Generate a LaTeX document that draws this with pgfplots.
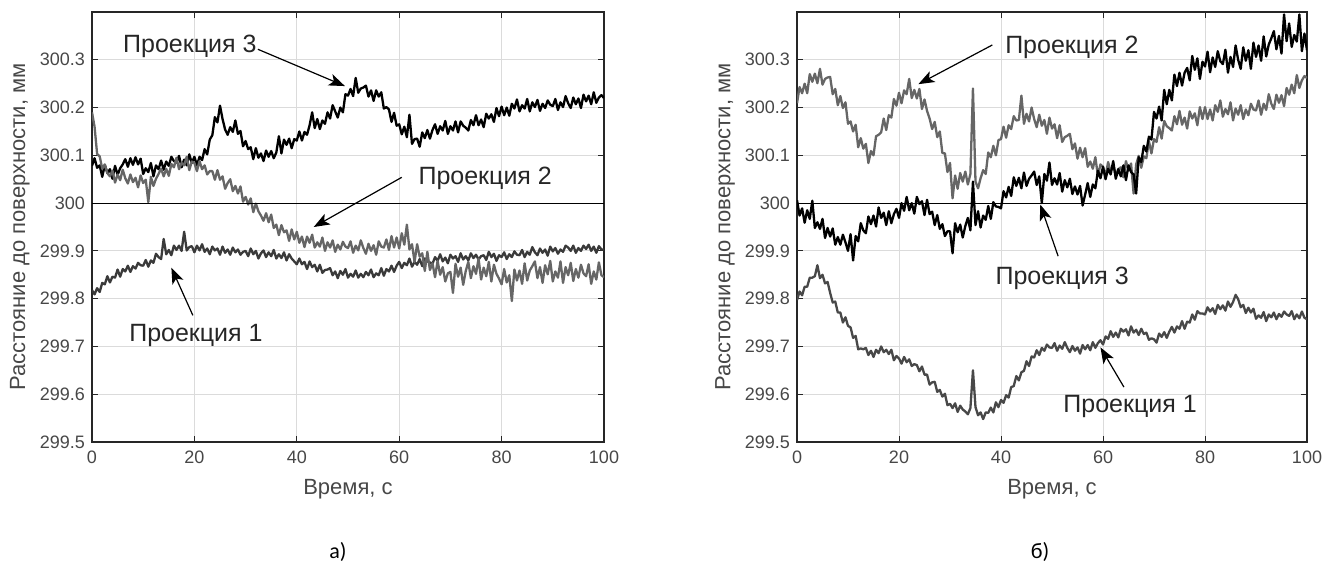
\documentclass[border=0pt]{standalone}
\usepackage{fontspec}
\setmainfont{Liberation Sans}
\newfontfamily\capfont{Carlito}
\usepackage{pgfplots}
\usepackage{pgfplotstable}
\pgfplotsset{compat=1.18}
\usetikzlibrary{arrows.meta}

\definecolor{axgray}{HTML}{262626}
\definecolor{sera}{HTML}{3A3A3A}
\definecolor{serb}{HTML}{666666}
\definecolor{serc}{HTML}{484848}

% panel a): t, Проекция 1, Проекция 2, Проекция 3
\pgfplotstableread{
t p1 p2 p3
0 299.818 300.190 300.078
0.5 299.809 300.160 300.094
1 299.822 300.103 300.074
1.5 299.814 300.098 300.079
2 299.833 300.072 300.055
2.5 299.830 300.081 300.080
3 299.847 300.063 300.063
3.5 299.834 300.056 300.071
4 299.846 300.068 300.051
4.5 299.844 300.043 300.078
5 299.861 300.060 300.059
5.5 299.846 300.048 300.073
6 299.862 300.070 300.081
6.5 299.857 300.052 300.092
7 299.869 300.041 300.076
7.5 299.856 300.060 300.094
8 299.868 300.044 300.080
8.5 299.863 300.053 300.096
9 299.875 300.033 300.081
9.5 299.870 300.058 300.093
10 299.869 300.042 300.061
10.5 299.881 300.049 300.073
11 299.867 300.002 300.065
11.5 299.880 300.055 300.084
12 299.875 300.036 300.056
12.5 299.894 300.051 300.079
13 299.887 300.061 300.071
13.5 299.883 300.072 300.089
14 299.925 300.056 300.070
14.5 299.893 300.072 300.087
15 299.902 300.057 300.078
15.5 299.891 300.082 300.097
16 299.911 300.075 300.088
16.5 299.902 300.095 300.085
17 299.911 300.071 300.099
17.5 299.900 300.084 300.075
18 299.940 300.079 300.091
18.5 299.901 300.097 300.079
19 299.908 300.069 300.102
19.5 299.910 300.087 300.084
20 299.897 300.084 300.097
20.5 299.911 300.067 300.079
21 299.901 300.088 300.097
21.5 299.914 300.071 300.090
22 299.898 300.079 300.113
22.5 299.905 300.060 300.102
23 299.893 300.067 300.133
23.5 299.909 300.067 300.142
24 299.901 300.049 300.180
24.5 299.905 300.069 300.169
25 299.892 300.049 300.204
25.5 299.909 300.056 300.176
26 299.896 300.030 300.154
26.5 299.903 300.042 300.143
27 299.892 300.050 300.159
27.5 299.907 300.025 300.149
28 299.897 300.036 300.173
28.5 299.903 300.020 300.145
29 299.892 300.035 300.151
29.5 299.898 300.003 300.119
30 299.900 300.013 300.130
30.5 299.889 299.997 300.113
31 299.905 300.010 300.117
31.5 299.893 299.981 300.092
32 299.900 299.999 300.115
32.5 299.884 299.983 300.095
33 299.895 299.974 300.104
33.5 299.901 299.963 300.088
34 299.887 299.979 300.110
34.5 299.897 299.960 300.097
35 299.889 299.976 300.109
35.5 299.902 299.948 300.094
36 299.884 299.955 300.106
36.5 299.893 299.933 300.140
37 299.885 299.954 300.104
37.5 299.897 299.939 300.133
38 299.880 299.943 300.122
38.5 299.893 299.921 300.135
39 299.884 299.945 300.115
39.5 299.878 299.924 300.134
40 299.872 299.940 300.131
40.5 299.884 299.917 300.150
41 299.872 299.930 300.131
41.5 299.877 299.908 300.149
42 299.862 299.930 300.143
42.5 299.878 299.917 300.163
43 299.866 299.934 300.190
43.5 299.871 299.907 300.157
44 299.857 299.918 300.176
44.5 299.871 299.909 300.155
45 299.854 299.928 300.173
45.5 299.860 299.900 300.166
46 299.861 299.918 300.190
46.5 299.864 299.907 300.177
47 299.849 299.922 300.205
47.5 299.857 299.898 300.192
48 299.843 299.913 300.179
48.5 299.858 299.903 300.200
49 299.850 299.919 300.190
49.5 299.862 299.909 300.228
50 299.844 299.906 300.225
50.5 299.852 299.920 300.239
51 299.846 299.896 300.224
51.5 299.859 299.911 300.262
52 299.844 299.901 300.231
52.5 299.852 299.922 300.240
53 299.845 299.906 300.242
53.5 299.856 299.894 300.246
54 299.849 299.915 300.223
54.5 299.861 299.900 300.236
55 299.845 299.912 300.214
55.5 299.853 299.892 300.236
56 299.849 299.920 300.223
56.5 299.864 299.909 300.232
57 299.848 299.907 300.198
57.5 299.862 299.924 300.201
58 299.857 299.902 300.196
58.5 299.869 299.931 300.170
59 299.856 299.907 300.189
59.5 299.869 299.928 300.162
60 299.877 299.905 300.165
60.5 299.864 299.937 300.144
61 299.875 299.913 300.160
61.5 299.870 299.955 300.138
62 299.884 299.903 300.185
62.5 299.867 299.914 300.124
63 299.877 299.877 300.134
63.5 299.871 299.914 300.135
64 299.883 299.888 300.118
64.5 299.868 299.895 300.148
65 299.884 299.858 300.136
65.5 299.878 299.898 300.153
66 299.876 299.860 300.135
66.5 299.873 299.874 300.153
67 299.887 299.845 300.165
67.5 299.879 299.879 300.145
68 299.893 299.850 300.161
68.5 299.878 299.866 300.152
69 299.886 299.836 300.172
69.5 299.874 299.853 300.145
70 299.892 299.856 300.161
70.5 299.884 299.812 300.152
71 299.889 299.873 300.171
71.5 299.877 299.846 300.148
72 299.895 299.865 300.171
72.5 299.882 299.829 300.162
73 299.889 299.858 300.158
73.5 299.880 299.877 300.152
74 299.895 299.843 300.174
74.5 299.885 299.868 300.163
75 299.892 299.852 300.184
75.5 299.882 299.884 300.163
76 299.889 299.840 300.175
76.5 299.891 299.865 300.159
77 299.881 299.847 300.187
77.5 299.898 299.877 300.177
78 299.887 299.836 300.186
78.5 299.894 299.871 300.170
79 299.879 299.852 300.199
79.5 299.891 299.842 300.182
80 299.887 299.830 300.202
80.5 299.897 299.862 300.184
81 299.883 299.834 300.200
81.5 299.893 299.849 300.183
82 299.887 299.795 300.208
82.5 299.899 299.861 300.198
83 299.892 299.838 300.217
83.5 299.891 299.859 300.192
84 299.902 299.831 300.205
84.5 299.887 299.874 300.198
85 299.898 299.838 300.218
85.5 299.892 299.859 300.192
86 299.908 299.868 300.211
86.5 299.897 299.878 300.201
87 299.891 299.843 300.216
87.5 299.905 299.866 300.193
88 299.896 299.833 300.208
88.5 299.903 299.870 300.199
89 299.890 299.851 300.215
89.5 299.909 299.879 300.206
90 299.899 299.836 300.203
90.5 299.906 299.857 300.218
91 299.894 299.844 300.195
91.5 299.903 299.878 300.211
92 299.898 299.833 300.201
92.5 299.911 299.866 300.224
93 299.907 299.849 300.209
93.5 299.900 299.875 300.199
94 299.911 299.837 300.221
94.5 299.896 299.862 300.207
95 299.906 299.844 300.219
95.5 299.900 299.871 300.199
96 299.911 299.853 300.227
96.5 299.904 299.847 300.213
97 299.913 299.872 300.225
97.5 299.900 299.831 300.207
98 299.909 299.857 300.232
98.5 299.896 299.840 300.210
99 299.910 299.876 300.221
99.5 299.903 299.849 300.226
100 299.903 299.845 300.220
}\dataA

% panel б): t, Проекция 1, Проекция 2, Проекция 3
\pgfplotstableread{
t p1 p2 p3
0 299.797 300.209 300.006
0.5 299.815 300.243 299.974
1 299.807 300.230 299.989
1.5 299.825 300.250 299.959
2 299.825 300.230 299.985
2.5 299.844 300.270 299.967
3 299.844 300.254 300.005
3.5 299.847 300.271 299.948
4 299.870 300.251 299.960
4.5 299.843 300.281 299.946
5 299.850 300.248 299.967
5.5 299.832 300.260 299.927
6 299.835 300.263 299.948
6.5 299.812 300.264 299.930
7 299.792 300.228 299.947
7.5 299.794 300.239 299.913
8 299.771 300.205 299.929
8.5 299.771 300.224 299.913
9 299.750 300.199 299.934
9.5 299.761 300.211 299.918
10 299.743 300.166 299.900
10.5 299.740 300.171 299.935
11 299.718 300.150 299.880
11.5 299.722 300.164 299.931
12 299.694 300.117 299.920
12.5 299.696 300.136 299.958
13 299.694 300.114 299.943
13.5 299.697 300.124 299.937
14 299.682 300.084 299.972
14.5 299.691 300.109 299.956
15 299.678 300.100 299.974
15.5 299.693 300.140 299.951
16 299.686 300.143 299.991
16.5 299.700 300.148 299.969
17 299.688 300.177 299.980
17.5 299.693 300.153 299.954
18 299.684 300.184 299.983
18.5 299.693 300.179 299.958
19 299.671 300.218 299.977
19.5 299.680 300.204 299.988
20 299.675 300.231 299.969
20.5 299.664 300.209 300.000
21 299.678 300.236 299.984
21.5 299.667 300.228 300.013
22 299.673 300.260 299.985
22.5 299.659 300.220 300.000
23 299.663 300.237 299.978
23.5 299.661 300.219 300.013
24 299.648 300.239 299.998
24.5 299.658 300.197 300.004
25 299.641 300.217 299.975
25.5 299.641 300.193 300.007
26 299.620 300.177 299.977
26.5 299.625 300.155 299.982
27 299.626 300.170 299.954
27.5 299.605 300.138 299.975
28 299.609 300.150 299.946
28.5 299.595 300.105 299.956
29 299.601 300.104 299.931
29.5 299.577 300.065 299.941
30 299.580 300.084 299.941
30.5 299.571 300.010 299.895
31 299.581 300.058 299.958
31.5 299.563 300.030 299.939
32 299.576 300.063 299.955
32.5 299.568 300.045 299.928
33 299.564 300.066 299.952
33.5 299.558 300.039 299.969
34 299.571 300.061 299.943
34.5 299.650 300.240 300.045
35 299.573 300.045 299.954
35.5 299.556 300.031 299.983
36 299.562 300.052 299.949
36.5 299.548 300.069 299.974
37 299.562 300.061 299.965
37.5 299.561 300.106 299.994
38 299.572 300.096 299.967
38.5 299.562 300.120 300.002
39 299.583 300.100 299.993
39.5 299.573 300.132 299.992
40 299.588 300.134 299.989
40.5 299.582 300.160 300.025
41 299.598 300.137 300.012
41.5 299.593 300.163 300.034
42 299.615 300.155 300.015
42.5 299.617 300.182 300.054
43 299.638 300.173 300.036
43.5 299.629 300.174 300.053
44 299.646 300.225 300.031
44.5 299.649 300.166 300.064
45 299.669 300.187 300.036
45.5 299.659 300.171 300.051
46 299.679 300.200 300.058
46.5 299.677 300.176 300.066
47 299.692 300.159 300.038
47.5 299.682 300.185 300.056
48 299.697 300.162 300.000
48.5 299.691 300.174 300.061
49 299.704 300.145 300.047
49.5 299.698 300.179 300.085
50 299.697 300.156 300.038
50.5 299.707 300.165 300.052
51 299.691 300.136 300.039
51.5 299.702 300.163 300.063
52 299.695 300.128 300.024
52.5 299.709 300.138 300.048
53 299.697 300.141 300.033
53.5 299.688 300.145 300.051
54 299.701 300.113 300.019
54.5 299.691 300.125 300.035
55 299.698 300.093 300.018
55.5 299.685 300.116 300.036
56 299.703 300.096 299.995
56.5 299.694 300.115 300.018
57 299.703 300.076 300.042
57.5 299.692 300.087 300.013
58 299.709 300.072 300.039
58.5 299.697 300.096 300.031
59 299.707 300.057 300.068
59.5 299.713 300.081 300.052
60 299.704 300.076 300.076
60.5 299.721 300.056 300.050
61 299.716 300.086 300.072
61.5 299.732 300.066 300.060
62 299.720 300.080 300.088
62.5 299.729 300.058 300.051
63 299.719 300.071 300.071
63.5 299.737 300.075 300.056
64 299.731 300.054 300.079
64.5 299.736 300.088 300.048
65 299.723 300.068 300.079
65.5 299.742 300.083 300.065
66 299.729 300.020 300.060
66.5 299.735 300.081 300.020
67 299.724 300.099 300.096
67.5 299.737 300.074 300.086
68 299.726 300.098 300.120
68.5 299.729 300.094 300.108
69 299.714 300.130 300.139
69.5 299.717 300.104 300.133
70 299.715 300.134 300.191
70.5 299.708 300.128 300.177
71 299.727 300.159 300.202
71.5 299.720 300.135 300.173
72 299.730 300.172 300.237
72.5 299.718 300.161 300.207
73 299.731 300.157 300.237
73.5 299.741 300.152 300.215
74 299.729 300.182 300.269
74.5 299.742 300.165 300.245
75 299.737 300.193 300.273
75.5 299.753 300.164 300.246
76 299.737 300.179 300.273
76.5 299.752 300.156 300.283
77 299.750 300.192 300.257
77.5 299.767 300.177 300.308
78 299.756 300.188 300.279
78.5 299.774 300.163 300.303
79 299.769 300.201 300.260
79.5 299.769 300.176 300.296
80 299.767 300.201 300.286
80.5 299.782 300.176 300.317
81 299.773 300.196 300.274
81.5 299.780 300.173 300.305
82 299.768 300.205 300.285
82.5 299.787 300.191 300.318
83 299.778 300.215 300.297
83.5 299.786 300.181 300.291
84 299.775 300.197 300.321
84.5 299.794 300.186 300.273
85 299.783 300.211 300.306
85.5 299.793 300.173 300.285
86 299.808 300.198 300.330
86.5 299.799 300.185 300.300
87 299.782 300.205 300.281
87.5 299.787 300.176 300.326
88 299.770 300.196 300.298
88.5 299.781 300.184 300.320
89 299.771 300.208 300.281
89.5 299.779 300.196 300.336
90 299.758 300.194 300.306
90.5 299.765 300.215 300.330
91 299.760 300.185 300.298
91.5 299.772 300.208 300.349
92 299.753 300.195 300.307
92.5 299.767 300.228 300.332
93 299.761 300.208 300.345
93.5 299.771 300.197 300.360
94 299.757 300.227 300.322
94.5 299.768 300.210 300.350
95 299.762 300.226 300.313
95.5 299.773 300.203 300.395
96 299.767 300.241 300.339
96.5 299.764 300.227 300.376
97 299.774 300.248 300.327
97.5 299.757 300.230 300.352
98 299.767 300.268 300.338
98.5 299.759 300.241 300.395
99 299.773 300.257 300.318
99.5 299.760 300.266 300.355
100 299.757 300.262 300.320
}\dataB

\pgfplotsset{
  panel/.style={
    scale only axis,
    height=215pt,
    xmin=0, xmax=100, ymin=299.5, ymax=300.4,
    xtick={0,20,40,60,80,100},
    xticklabels={0,20,40,60,80,100},
    ytick={299.5,299.6,299.7,299.8,299.9,300,300.1,300.2,300.3},
    yticklabels={299.5,299.6,299.7,299.8,299.9,300,300.1,300.2,300.3},
    grid=major,
    major grid style={draw=black!14, line width=0.5pt},
    axis line style={draw=axgray, line width=0.6pt},
    tick align=inside,
    major tick length=3pt,
    tick style={draw=axgray, line width=0.5pt},
    ticklabel style={font=\fontsize{9}{10}\selectfont, text=axgray!85},
    xticklabel style={yshift=-1pt},
    xlabel={Время, с},
    ylabel={Расстояние до поверхности, мм},
    label style={font=\fontsize{11}{12}\selectfont, text=axgray!85},
    x label style={at={(axis description cs:0.5,-0.109)}, anchor=center},
    y label style={at={(axis description cs:-0.141,0.5)}, anchor=center},
  },
  trace/.style={line width=1.15pt, line join=round},
}
\tikzset{
  ann/.style={font=\fontsize{12.5}{14}\selectfont, text=black!85, inner sep=0pt},
  arr/.style={-{Stealth[length=8pt,width=6pt,inset=2pt]}, line width=0.6pt, black},
}

\begin{document}
\begin{tikzpicture}
\path[use as bounding box] (-46pt,-60.5pt) rectangle (615pt,221pt);

\begin{axis}[panel, width=256pt, at={(0pt,0pt)}, anchor=south west]
\addplot[trace, black] table[x=t, y=p3] {\dataA};
\addplot[trace, sera] table[x=t, y=p1] {\dataA};
\addplot[trace, serb] table[x=t, y=p2] {\dataA};
\addplot[black, line width=0.6pt] coordinates {(0,300) (100,300)};
\node[ann] at (axis cs:19.1,300.328) {Проекция 3};
\draw[arr] (axis cs:32.4,300.322) -- (axis cs:49.4,300.245);
\node[ann] at (axis cs:76.8,300.051) {Проекция 2};
\draw[arr] (axis cs:60.5,300.054) -- (axis cs:43.3,299.950);
\node[ann] at (axis cs:20.3,299.723) {Проекция 1};
\draw[arr] (axis cs:19.7,299.765) -- (axis cs:15.5,299.865);
\end{axis}

\begin{axis}[panel, width=255pt, at={(352.5pt,0pt)}, anchor=south west]
\addplot[trace, serb] table[x=t, y=p2] {\dataB};
\addplot[trace, black] table[x=t, y=p3] {\dataB};
\addplot[trace, serc] table[x=t, y=p1] {\dataB};
\addplot[black, line width=0.6pt] coordinates {(0,300) (100,300)};
\node[ann] at (axis cs:53.9,300.325) {Проекция 2};
\draw[arr] (axis cs:38.3,300.331) -- (axis cs:23.8,300.249);
\node[ann] at (axis cs:52.0,299.843) {Проекция 3};
\draw[arr] (axis cs:51.2,299.889) -- (axis cs:47.7,299.997);
\node[ann] at (axis cs:65.3,299.574) {Проекция 1};
\draw[arr] (axis cs:64.1,299.615) -- (axis cs:59.5,299.698);
\end{axis}

\node[font=\capfont\fontsize{11}{13}\selectfont] at (123pt,-55pt) {а)};
\node[font=\capfont\fontsize{11}{13}\selectfont] at (474pt,-55pt) {б)};
\end{tikzpicture}
\end{document}
